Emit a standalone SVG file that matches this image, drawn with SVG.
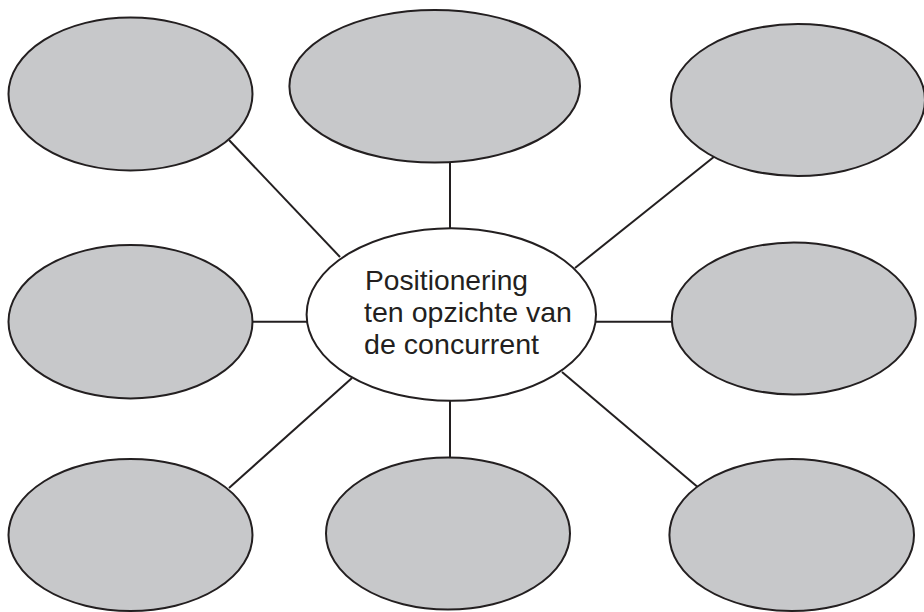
<svg xmlns="http://www.w3.org/2000/svg" width="924" height="612" viewBox="0 0 924 612">
  <style>
    .bubble { fill: #c7c8ca; stroke: #231f20; stroke-width: 2; }
    .hub { fill: #ffffff; stroke: #231f20; stroke-width: 2; }
    .link { stroke: #231f20; stroke-width: 2; fill: none; }
    .label { font-family: "Liberation Sans", Arial, sans-serif; font-size: 28px; fill: #231f20; }
  </style>
  <rect width="924" height="612" fill="#ffffff"/>
  <g id="connectors">
    <line class="link" x1="229" y1="140" x2="340" y2="257"/>
    <line class="link" x1="450" y1="162" x2="450" y2="229"/>
    <line class="link" x1="715" y1="156" x2="575" y2="268"/>
    <line class="link" x1="252" y1="321.7" x2="308" y2="321.7"/>
    <line class="link" x1="595" y1="321.7" x2="672" y2="321.7"/>
    <line class="link" x1="229" y1="488" x2="352" y2="378"/>
    <line class="link" x1="450" y1="400" x2="450" y2="460"/>
    <line class="link" x1="562" y1="372" x2="700" y2="489"/>
  </g>
  <g id="node-top-left"><ellipse class="bubble" cx="130.5" cy="94" rx="122" ry="76.5"/></g>
  <g id="node-top-middle"><ellipse class="bubble" cx="434.7" cy="86.3" rx="145.3" ry="76.3"/></g>
  <g id="node-top-right"><ellipse class="bubble" cx="798" cy="100" rx="127" ry="76"/></g>
  <g id="node-mid-left"><ellipse class="bubble" cx="130.5" cy="321.7" rx="122" ry="76.7"/></g>
  <g id="node-mid-right"><ellipse class="bubble" cx="793.8" cy="318.5" rx="122" ry="76"/></g>
  <g id="node-bottom-left"><ellipse class="bubble" cx="130.5" cy="535" rx="122" ry="76"/></g>
  <g id="node-bottom-middle"><ellipse class="bubble" cx="448" cy="533.5" rx="122" ry="76"/></g>
  <g id="node-bottom-right"><ellipse class="bubble" cx="791.7" cy="535" rx="122.3" ry="76"/></g>
  <g id="node-center">
    <ellipse class="hub" cx="451.3" cy="314.5" rx="144.7" ry="86.3"/>
    <text class="label" x="365" y="290" textLength="163" lengthAdjust="spacingAndGlyphs">Positionering</text>
    <text class="label" x="364" y="322" textLength="208" lengthAdjust="spacingAndGlyphs">ten opzichte van</text>
    <text class="label" x="364" y="354" textLength="175" lengthAdjust="spacingAndGlyphs">de concurrent</text>
  </g>
</svg>
